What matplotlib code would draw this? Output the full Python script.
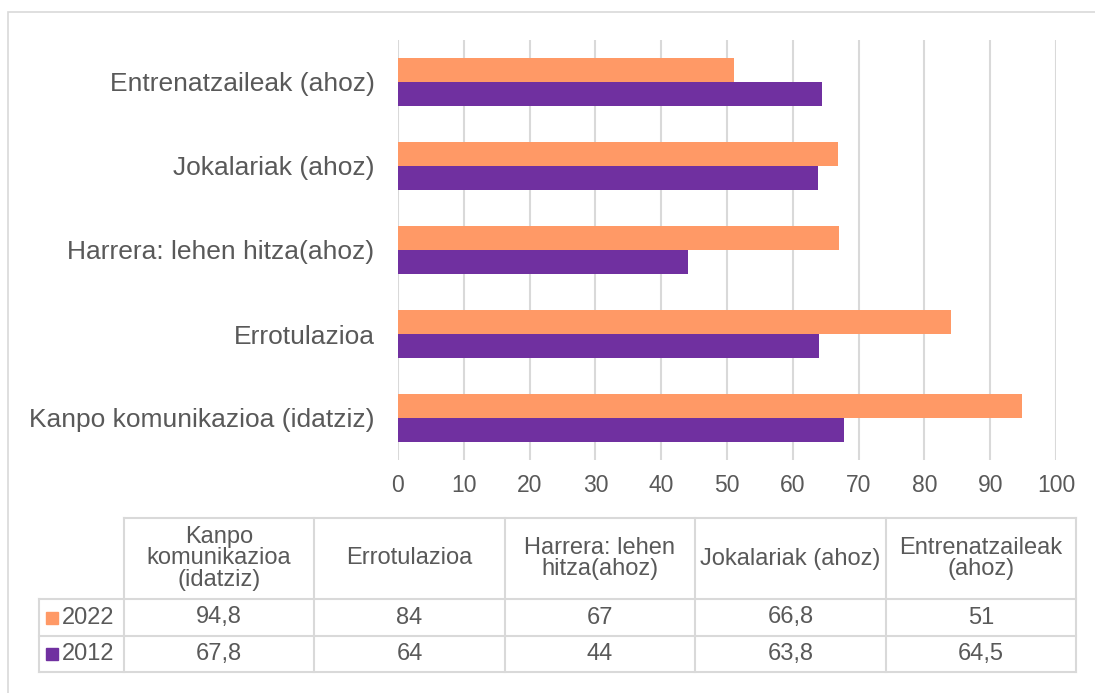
import numpy as np
import matplotlib
matplotlib.use('Agg')
from matplotlib import pyplot as plt
from matplotlib.patches import Rectangle
from matplotlib.lines import Line2D

# datuak
categories = ['Kanpo komunikazioa (idatziz)', 'Errotulazioa',
              'Harrera: lehen hitza(ahoz)', 'Jokalariak (ahoz)',
              'Entrenatzaileak (ahoz)']
table_headers = ['Kanpo\nkomunikazioa\n(idatziz)', 'Errotulazioa',
                 'Harrera: lehen\nhitza(ahoz)', 'Jokalariak (ahoz)',
                 'Entrenatzaileak\n(ahoz)']
years = ['2022', '2012']
values_2022 = [94.8, 84, 67, 66.8, 51]
values_2012 = [67.8, 64, 44, 63.8, 64.5]
xticks = [0, 10, 20, 30, 40, 50, 60, 70, 80, 90, 100]

c2022 = '#FF9966'
c2012 = '#7030A0'
txt = '#595959'
grid = '#D9D9D9'

plt.rcParams['font.family'] = ['Liberation Sans', 'DejaVu Sans']

W, H = 1095, 693
fig = plt.figure(figsize=(W / 100, H / 100), dpi=100)


def fx(x):
    return x / W


def fy(y):
    return 1 - y / H


# kanpoko markoa
fig.add_artist(Rectangle((fx(8), fy(700)), fx(1100) - fx(8), fy(12) - fy(700),
                         transform=fig.transFigure, fill=False,
                         edgecolor=grid, lw=1.2))

ax = fig.add_axes([fx(398), fy(460), fx(1056) - fx(398), fy(40) - fy(460)])
y = np.arange(len(categories))
h = 0.28
ax.barh(y + h / 2, values_2022, height=h, color=c2022, zorder=3)
ax.barh(y - h / 2, values_2012, height=h, color=c2012, zorder=3)
ax.set_xlim(0, 100)
ax.set_ylim(-0.5, len(categories) - 0.5)
ax.set_xticks(xticks)
ax.set_xticklabels([str(t) for t in xticks], fontsize=16.5, color=txt)
ax.set_yticks(y)
ax.set_yticklabels(categories, fontsize=19, color=txt)
ax.tick_params(length=0)
ax.tick_params(axis='x', pad=10)
ax.tick_params(axis='y', pad=17)
for s in ax.spines.values():
    s.set_visible(False)
ax.xaxis.grid(True, color=grid, lw=1.5, zorder=0)
ax.set_axisbelow(True)

# taula
cols = [39, 124, 314, 505, 695, 886, 1076]
rows = [518, 599, 636, 672]


def hline(x0, x1, yy):
    fig.add_artist(Line2D([fx(x0), fx(x1)], [fy(yy), fy(yy)],
                          transform=fig.transFigure, color=grid, lw=1.5))


def vline(xx, y0, y1):
    fig.add_artist(Line2D([fx(xx), fx(xx)], [fy(y0), fy(y1)],
                          transform=fig.transFigure, color=grid, lw=1.5))


hline(cols[1], cols[-1], rows[0])
for r in rows[1:]:
    hline(cols[0], cols[-1], r)
vline(cols[0], rows[1], rows[-1])
for c in cols[1:]:
    vline(c, rows[0], rows[-1])

for i, head in enumerate(table_headers):
    cx = (cols[i + 1] + cols[i + 2]) / 2
    fig.text(fx(cx), fy((rows[0] + rows[1]) / 2), head, ha='center',
             va='center', fontsize=17, color=txt, linespacing=0.95)

for j, (yr, vals, col) in enumerate(zip(years, [values_2022, values_2012],
                                         [c2022, c2012])):
    cy = (rows[j + 1] + rows[j + 2]) / 2
    fig.add_artist(Rectangle((fx(46), fy(cy + 6)), fx(58) - fx(46),
                             fy(cy - 6) - fy(cy + 6),
                             transform=fig.transFigure, color=col))
    fig.text(fx(62), fy(cy), yr, ha='left', va='center', fontsize=17,
             color=txt)
    for i, v in enumerate(vals):
        cx = (cols[i + 1] + cols[i + 2]) / 2
        s = ('%g' % v).replace('.', ',')
        fig.text(fx(cx), fy(cy), s, ha='center', va='center',
                 fontsize=17, color=txt)

fig.savefig('out.png', dpi=100)
